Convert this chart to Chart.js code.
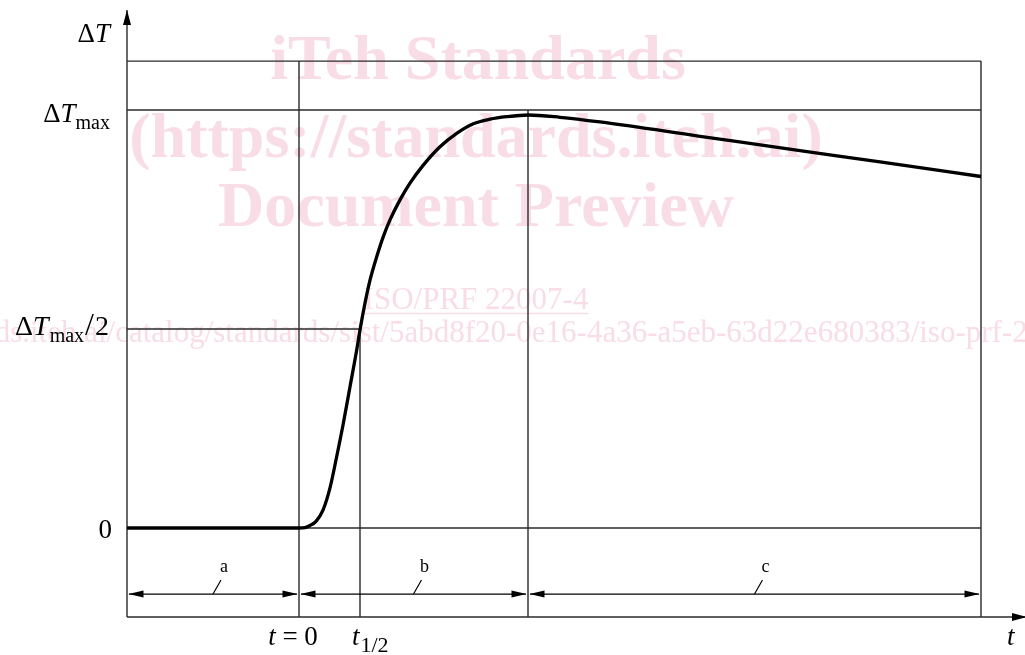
<!DOCTYPE html>
<html><head><meta charset="utf-8">
<script src="https://cdn.jsdelivr.net/npm/chart.js@4.4.1/dist/chart.umd.min.js"></script>
<style>html,body{margin:0;padding:0;background:#fff;overflow:hidden}canvas{display:block}</style>
</head><body>
<canvas id="c" width="1025" height="655"></canvas>
<script>
// ---- data (arbitrary units: t in time units, ΔT scaled so that ΔTmax = 100) ----
const tCurve  = [-17.2, 0, 0.6, 1.1, 1.7, 2.4, 3.1, 3.77, 4.43, 5.1, 5.77, 6.1, 6.6, 7.1, 7.77, 8.43, 9.1, 10.1, 11.1, 12.43, 14.1, 15.77, 17.43, 19.1, 20.77, 22.93, 26.1, 30.1, 40.1, 50.1, 58.1, 68.2];
const dTCurve = [0, 0, 0.1, 0.6, 1.6, 4.3, 9.6, 17.1, 25.0, 33.8, 42.6, 47.4, 53.8, 59.3, 64.9, 69.7, 73.7, 78.5, 82.5, 86.8, 91.2, 94.4, 96.7, 97.8, 98.4, 98.8, 98.25, 97.13, 93.71, 90.29, 87.56, 84.09];
const yLevels = [0, 47.6, 100];             // 0, ΔTmax/2, ΔTmax
const tMarks  = [0, 6.1, 22.9];             // t = 0, t1/2, t at ΔTmax
const tStart = -17.2, tEnd = 68.2;          // frame left / right
const frameTop = 111.7;                     // frame top level
const xRange = [-17.2, 72.6];
const yRange = [-21.29, 123.92];
const dimLevel = -15.8;                     // level of the dimension arrows
const dimLabels = ['a', 'b', 'c'];
const dimBounds = [[tStart, tMarks[0]], [tMarks[0], tMarks[2]], [tMarks[2], tEnd]];

const yMin = yRange[0], yMax = yRange[1];
const seg = (x0, y0, x1, y1) => [{x: x0, y: y0}, {x: x1, y: y1}];
const refSegments = [
  seg(tStart, frameTop, tEnd, frameTop),
  seg(tStart, yLevels[2], tEnd, yLevels[2]),
  seg(tStart, yLevels[1], tMarks[1], yLevels[1]),
  seg(tStart, yLevels[0], tEnd, yLevels[0]),
  seg(tMarks[0], frameTop, tMarks[0], yMin),
  seg(tMarks[1], yLevels[1], tMarks[1], yMin),
  seg(tMarks[2], yLevels[2], tMarks[2], yMin),
  seg(tEnd, frameTop, tEnd, yMin),
  seg(tStart, yMin, tStart, yMax),
  seg(tStart, yMin, xRange[1], yMin)
];

const datasets = [{
  data: tCurve.map((t, i) => ({x: t, y: dTCurve[i]})),
  borderColor: '#000', borderWidth: 3.3, pointRadius: 0,
  cubicInterpolationMode: 'monotone', showLine: true, clip: 6
}];
refSegments.forEach(s => datasets.push({
  data: s, borderColor: '#2a2a2a', borderWidth: 1.4, pointRadius: 0, showLine: true, clip: 6
}));

const SERIF = '"Liberation Serif", "DejaVu Serif", serif';
function fontOf(p) { return (p.i ? 'italic ' : '') + (p.size || (p.sub ? 19 : 27)) + 'px ' + SERIF; }
function drawParts(ctx, parts, x, y, align) {
  let w = 0;
  parts.forEach(p => { ctx.font = fontOf(p); p.w = ctx.measureText(p.t).width + (p.gap || 0); w += p.w; });
  let cx = align === 'right' ? x - w : (align === 'center' ? x - w / 2 : x);
  ctx.textAlign = 'left'; ctx.textBaseline = 'alphabetic'; ctx.fillStyle = '#000';
  parts.forEach(p => { ctx.font = fontOf(p); ctx.fillText(p.t, cx + (p.gap || 0), y + (p.sub ? 7 : 0)); cx += p.w; });
}
function arrowHead(ctx, x, y, dx, dy, len, hw) {
  ctx.beginPath();
  ctx.moveTo(x, y);
  ctx.lineTo(x - dx * len - dy * hw, y - dy * len - dx * hw);
  ctx.lineTo(x - dx * len + dy * hw, y - dy * len + dx * hw);
  ctx.closePath(); ctx.fill();
}

const deco = {
  id: 'deco',
  beforeDatasetsDraw(chart) {
    const ctx = chart.ctx;
    ctx.save();
    ctx.fillStyle = '#f9dde6'; ctx.strokeStyle = '#f9dde6';
    ctx.textAlign = 'center'; ctx.textBaseline = 'alphabetic';
    ctx.font = 'bold 64px ' + SERIF;
    ctx.fillText('iTeh Standards', 478, 79);
    ctx.fillText('(https://standards.iteh.ai)', 476, 157);
    ctx.fillText('Document Preview', 476, 226);
    ctx.font = '31px ' + SERIF;
    ctx.fillText('ISO/PRF 22007-4', 476, 309);
    const w = ctx.measureText('ISO/PRF 22007-4').width;
    ctx.lineWidth = 1.5; ctx.beginPath(); ctx.moveTo(476 - w / 2, 313.5); ctx.lineTo(476 + w / 2, 313.5); ctx.stroke();
    ctx.textAlign = 'left';
    ctx.fillText('https://standards.iteh.ai/catalog/standards/sist/5abd8f20-0e16-4a36-a5eb-63d22e680383/iso-prf-22007-4', -181, 342);
    ctx.restore();
  },
  afterDatasetsDraw(chart) {
    const ctx = chart.ctx, xs = chart.scales.x, ys = chart.scales.y;
    const X = v => xs.getPixelForValue(v), Y = v => ys.getPixelForValue(v);
    ctx.save();
    ctx.fillStyle = '#000'; ctx.strokeStyle = '#000';
    // axis arrows
    arrowHead(ctx, X(tStart), Y(yMax), 0, -1, 15, 4);
    arrowHead(ctx, X(xRange[1]) + 2, Y(yMin), 1, 0, 15, 4);
    // dimension arrows
    const dy = Y(dimLevel);
    dimBounds.forEach((b, i) => {
      const x0 = X(b[0]), x1 = X(b[1]);
      ctx.lineWidth = 1.3;
      ctx.beginPath(); ctx.moveTo(x0 + 2, dy); ctx.lineTo(x1 - 2, dy); ctx.stroke();
      arrowHead(ctx, x0 + 1.5, dy, -1, 0, 15, 3.5);
      arrowHead(ctx, x1 - 1.5, dy, 1, 0, 15, 3.5);
      const m = (x0 + x1) / 2;
      ctx.lineWidth = 1.2;
      ctx.beginPath(); ctx.moveTo(m, dy); ctx.lineTo(m + 8, dy - 14); ctx.stroke();
      ctx.font = '18px ' + SERIF; ctx.textAlign = 'center'; ctx.textBaseline = 'alphabetic';
      ctx.fillText(dimLabels[i], m + 11, dy - 22);
    });
    // y labels
    drawParts(ctx, [{t: 'Δ'}, {t: 'T', i: 1}], 110, 42, 'right');
    drawParts(ctx, [{t: 'Δ'}, {t: 'T', i: 1}, {t: 'max', sub: 1, size: 20}], 110, Y(yLevels[2]) + 12, 'right');
    drawParts(ctx, [{t: 'Δ', size: 28}, {t: 'T', i: 1, size: 28}, {t: 'max', sub: 1, size: 20, gap: 1}, {t: '/', size: 32, gap: 1}, {t: '2', size: 28, gap: 1}], 109, Y(yLevels[1]) + 6, 'right');
    drawParts(ctx, [{t: '0'}], 112, Y(yLevels[0]) + 10, 'right');
    // t labels
    const by = 645;
    drawParts(ctx, [{t: 't', i: 1}, {t: ' = 0'}], X(tMarks[0]) - 6, by, 'center');
    drawParts(ctx, [{t: 't', i: 1}, {t: '1/2', sub: 1, size: 22, gap: 1}], X(tMarks[1]) - 8, by, 'left');
    drawParts(ctx, [{t: 't', i: 1}], 1007, by, 'left');
    ctx.restore();
  }
};

new Chart(document.getElementById('c'), {
  type: 'scatter',
  data: {datasets},
  options: {
    responsive: false, animation: false, devicePixelRatio: 1,
    layout: {padding: {left: 127, right: 0, top: 10, bottom: 38}},
    plugins: {legend: {display: false}, tooltip: {enabled: false}},
    scales: {
      x: {type: 'linear', display: false, min: xRange[0], max: xRange[1]},
      y: {type: 'linear', display: false, min: yRange[0], max: yRange[1]}
    }
  },
  plugins: [deco]
});
</script>
</body></html>
